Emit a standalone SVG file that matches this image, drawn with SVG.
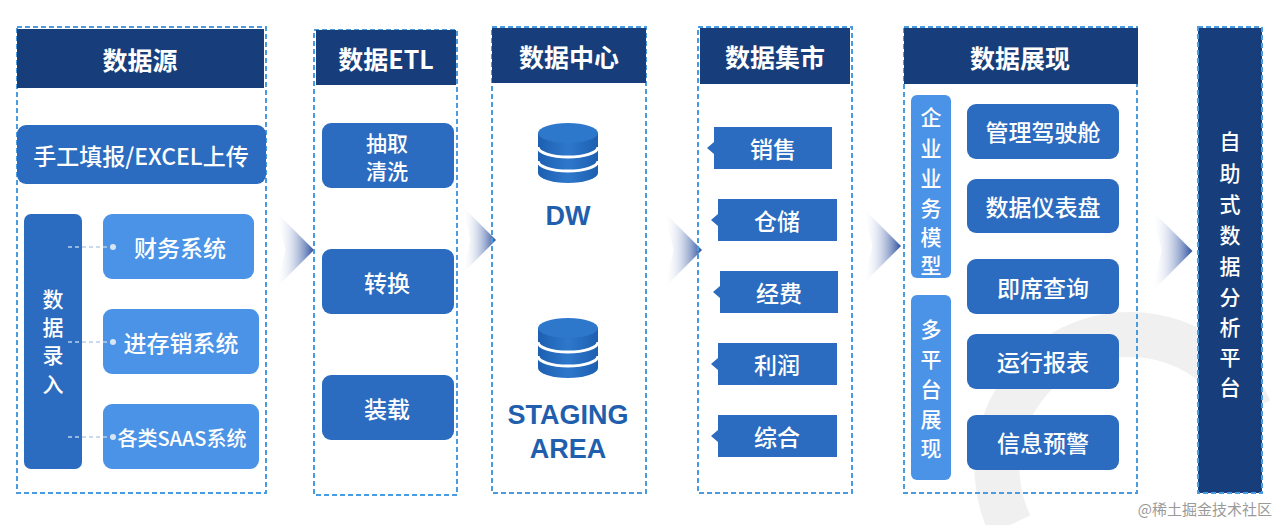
<svg xmlns="http://www.w3.org/2000/svg" width="1280" height="525" viewBox="0 0 1280 525">
<defs>
<linearGradient id="ag" x1="0" x2="1" y1="0" y2="0"><stop offset="0" stop-color="#ffffff" stop-opacity="0"/><stop offset="1" stop-color="#2a4f9e"/></linearGradient>
<linearGradient id="cyl" x1="0" x2="1"><stop offset="0" stop-color="#1d5fb0"/><stop offset="0.5" stop-color="#2e78cc"/><stop offset="1" stop-color="#1d5fb0"/></linearGradient>
<g id="db"><path d="M0,10 v40 a30,10 0 0 0 60,0 v-40" fill="url(#cyl)"/><ellipse cx="30" cy="10" rx="30" ry="10" fill="#2e78cc"/><path d="M0,24 a30,10 0 0 0 60,0 M0,38 a30,10 0 0 0 60,0" fill="none" stroke="#fff" stroke-width="3"/></g>
<symbol id="chev" viewBox="0 0 40 80"><polygon points="0,0 40,40 0,80 10,40" fill="url(#ag)"/></symbol>
</defs>
<style>
.frame{fill:none;stroke:#4a9be0;stroke-width:2;stroke-dasharray:5,3}
.hd{fill:#173e7a}
.mid{fill:#2b6cc0}
.lt{fill:#4b93e6}
.t{font-family:"Noto Sans CJK SC","Liberation Sans",sans-serif;fill:#fff;text-anchor:middle;dominant-baseline:central;font-weight:500}
.h{font-size:25px;font-weight:bold}
.b{font-size:23px}
.v{font-size:21px}
.db{font-family:"Liberation Sans","Noto Sans CJK SC",sans-serif;font-weight:bold;font-size:27px;fill:#1f5fae;text-anchor:middle;dominant-baseline:central}
.cn{stroke:#b9cfe8;stroke-width:1.5;stroke-dasharray:4,3;fill:none}
</style>
<rect width="1280" height="525" fill="#fff"/>
<g opacity="0.15" fill="none" stroke="#9a9a9a"><path d="M1010,525 A130,130 0 0 1 1250,410" stroke-width="45"/></g>
<g id="arrows">
<use href="#chev" x="276" y="212" width="38" height="76"/>
<use href="#chev" x="462" y="205" width="34" height="70"/>
<use href="#chev" x="664" y="212" width="38" height="76"/>
<use href="#chev" x="862" y="208" width="40" height="76"/>
<use href="#chev" x="1150" y="210" width="44" height="82"/>
</g>
<g id="col1">
<rect class="frame" x="17" y="27" width="249" height="466"/>
<rect class="hd" x="17" y="29" width="247" height="59"/><text class="t h" x="140" y="59">数据源</text>
<rect class="mid" x="17" y="125" width="249" height="59" rx="9"/><text class="t b" x="141" y="155">手工填报/EXCEL上传</text>
<rect class="mid" x="24" y="214" width="58" height="255" rx="7"/>
<text class="t v" x="53" y="298">数</text><text class="t v" x="53" y="326">据</text><text class="t v" x="53" y="354">录</text><text class="t v" x="53" y="383">入</text>
<rect class="lt" x="103" y="214" width="151" height="65" rx="9"/><text class="t b" x="180" y="247">财务系统</text>
<rect class="lt" x="103" y="309" width="156" height="65" rx="9"/><text class="t b" x="181" y="342">进存销系统</text>
<rect class="lt" x="103" y="404" width="156" height="65" rx="9"/><text class="t" style="font-size:20px" x="182" y="437">各类SAAS系统</text>
</g>
<g id="connectors">
<path class="cn" d="M68,247 H110 M68,342 H110 M68,437 H110"/>
<circle cx="113" cy="247" r="3" fill="#d7e5f5"/><circle cx="113" cy="342" r="3" fill="#d7e5f5"/><circle cx="113" cy="437" r="3" fill="#d7e5f5"/>
</g>
<g id="col2">
<rect class="frame" x="314" y="30" width="143" height="465"/>
<rect class="hd" x="316" y="30" width="140" height="55"/><text class="t h" x="386" y="58">数据ETL</text>
<rect class="mid" x="322" y="123" width="132" height="65" rx="9"/><text class="t v" x="387" y="142">抽取</text><text class="t v" x="387" y="170">清洗</text>
<rect class="mid" x="322" y="249" width="132" height="65" rx="9"/><text class="t b" x="387" y="282">转换</text>
<rect class="mid" x="322" y="375" width="132" height="65" rx="9"/><text class="t b" x="387" y="408">装载</text>
</g>
<g id="col3">
<rect class="frame" x="492" y="27" width="154" height="466"/>
<rect class="hd" x="492" y="28" width="154" height="55"/><text class="t h" x="569" y="56">数据中心</text>
<use href="#db" x="538" y="123"/><text class="db" x="568" y="216">DW</text>
<use href="#db" x="538" y="318"/><text class="db" x="568" y="415">STAGING</text><text class="db" x="568" y="449">AREA</text>
</g>
<g id="col4">
<rect class="frame" x="698" y="27" width="154" height="466"/>
<rect class="hd" x="700" y="28" width="150" height="56"/><text class="t h" x="775" y="56">数据集市</text>
<path class="mid" d="M714,127 H832 V169 H714 V154 L707,148 L714,142 Z"/><text class="t b" x="773" y="148">销售</text>
<path class="mid" d="M718,199 H837 V241 H718 V226 L711,220 L718,214 Z"/><text class="t b" x="777" y="220">仓储</text>
<path class="mid" d="M720,271 H838 V313 H720 V298 L713,292 L720,286 Z"/><text class="t b" x="779" y="292">经费</text>
<path class="mid" d="M718,343 H837 V385 H718 V370 L711,364 L718,358 Z"/><text class="t b" x="777" y="364">利润</text>
<path class="mid" d="M718,415 H837 V457 H718 V442 L711,436 L718,430 Z"/><text class="t b" x="777" y="436">综合</text>
</g>
<g id="col5">
<rect class="frame" x="904" y="27" width="233" height="466"/>
<rect class="hd" x="904" y="28" width="234" height="56"/><text class="t h" x="1020" y="57">数据展现</text>
<rect class="lt" x="911" y="95" width="40" height="183" rx="6"/>
<text class="t v" x="931" y="116">企</text><text class="t v" x="931" y="147">业</text><text class="t v" x="931" y="177">业</text><text class="t v" x="931" y="207">务</text><text class="t v" x="931" y="236">模</text><text class="t v" x="931" y="264">型</text>
<rect class="lt" x="911" y="295" width="40" height="185" rx="6"/>
<text class="t v" x="931" y="328">多</text><text class="t v" x="931" y="358">平</text><text class="t v" x="931" y="388">台</text><text class="t v" x="931" y="418">展</text><text class="t v" x="931" y="447">现</text>
<rect class="mid" x="967" y="104" width="152" height="55" rx="9"/><text class="t b" x="1043" y="131">管理驾驶舱</text>
<rect class="mid" x="967" y="179" width="152" height="54" rx="9"/><text class="t b" x="1043" y="206">数据仪表盘</text>
<rect class="mid" x="967" y="259" width="152" height="55" rx="9"/><text class="t b" x="1043" y="287">即席查询</text>
<rect class="mid" x="967" y="334" width="152" height="55" rx="9"/><text class="t b" x="1043" y="361">运行报表</text>
<rect class="mid" x="967" y="415" width="152" height="55" rx="9"/><text class="t b" x="1043" y="442">信息预警</text>
</g>
<g id="col6">
<rect class="hd" x="1198" y="28" width="64" height="465"/>
<rect class="frame" x="1198" y="27" width="64" height="466"/>
<text class="t v" x="1230" y="140">自</text><text class="t v" x="1230" y="172">助</text><text class="t v" x="1230" y="203">式</text><text class="t v" x="1230" y="234">数</text><text class="t v" x="1230" y="265">据</text><text class="t v" x="1230" y="296">分</text><text class="t v" x="1230" y="326">析</text><text class="t v" x="1230" y="356">平</text><text class="t v" x="1230" y="386">台</text>
</g>
<text x="1272" y="508" style="font-family:'Noto Sans CJK SC',sans-serif;font-size:15px;fill:#9a9a9a;text-anchor:end;dominant-baseline:central">@稀土掘金技术社区</text>
</svg>
